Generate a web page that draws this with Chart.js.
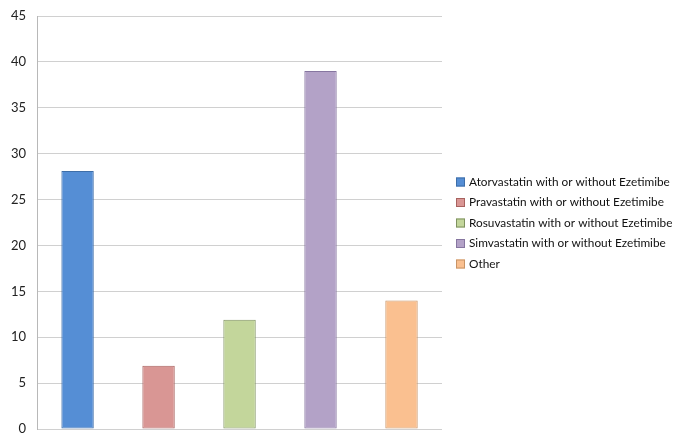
<!DOCTYPE html>
<html>
<head>
<meta charset="utf-8">
<script src="https://cdn.jsdelivr.net/npm/chart.js@4/dist/chart.umd.min.js"></script>
<style>
    html, body { margin: 0; padding: 0; background: #fff; }
    #wrap { width: 685px; height: 446px; position: relative; }
</style>
</head>
<body>
<div id="wrap"><canvas id="chart"></canvas></div>
<script>
    var seriesNames = [
        'Atorvastatin with or without Ezetimibe',
        'Pravastatin with or without Ezetimibe',
        'Rosuvastatin with or without Ezetimibe',
        'Simvastatin with or without Ezetimibe',
        'Other'
    ];
    var seriesValues = [28.1, 6.9, 11.9, 39, 14];
    var fillColors = ['#558ed5', '#d99694', '#c3d69b', '#b3a2c7', '#fac090'];
    var borderColors = ['#3e6ea8', '#a8625f', '#7f9160', '#8676a0', '#c89466'];
    var yTicks = [0, 5, 10, 15, 20, 25, 30, 35, 40, 45];

    var datasets = seriesNames.map(function (name, i) {
        return {
            label: name,
            data: [seriesValues[i]],
            backgroundColor: fillColors[i],
            borderColor: borderColors[i],
            borderWidth: 1,
            borderSkipped: false,
            categoryPercentage: 1,
            barPercentage: 0.4
        };
    });

    // the built-in right legend truncates long labels, so draw it ourselves
    var sideLegend = {
        id: 'sideLegend',
        afterDraw: function (chart) {
            var c = chart.ctx;
            var items = chart.data.datasets;
            var lineHeight = 20.5;
            var x = chart.chartArea.right + 14;
            var y = 182;

            c.save();
            c.font = '11.8px Lato';
            c.textBaseline = 'middle';
            items.forEach(function (ds, i) {
                var cy = y + i * lineHeight;
                c.fillStyle = ds.backgroundColor;
                c.fillRect(x, cy - 4.5, 9, 9);
                c.strokeStyle = ds.borderColor;
                c.lineWidth = 1;
                c.strokeRect(x + 0.5, cy - 4, 8, 8);
                c.fillStyle = '#111';
                c.fillText(ds.label, x + 13, cy);
            });
            c.restore();
        }
    };

    var ctx = document.getElementById('chart').getContext('2d');

    var myChart = new Chart(ctx, {
        type: 'bar',
        data: {
            labels: [''],
            datasets: datasets
        },
        options: {
            responsive: true,
            maintainAspectRatio: false,
            animation: false,
            layout: {
                padding: { top: 16, bottom: 17, left: 0, right: 243 }
            },
            plugins: {
                tooltip: { enabled: false },
                legend: { display: false }
            },
            scales: {
                x: {
                    display: false,
                    grid: { display: false }
                },
                y: {
                    min: 0,
                    max: 45,
                    afterBuildTicks: function (axis) {
                        axis.ticks = yTicks.map(function (v) { return { value: v }; });
                    },
                    afterFit: function (axis) {
                        axis.paddingTop = 0;
                        axis.paddingBottom = 0;
                    },
                    grid: {
                        color: '#d0d0d0',
                        drawTicks: false
                    },
                    border: { color: '#b8b8b8' },
                    ticks: {
                        padding: 11,
                        color: '#222',
                        font: { family: 'Lato', size: 13 }
                    }
                }
            }
        },
        plugins: [sideLegend]
    });
</script>
</body>
</html>
